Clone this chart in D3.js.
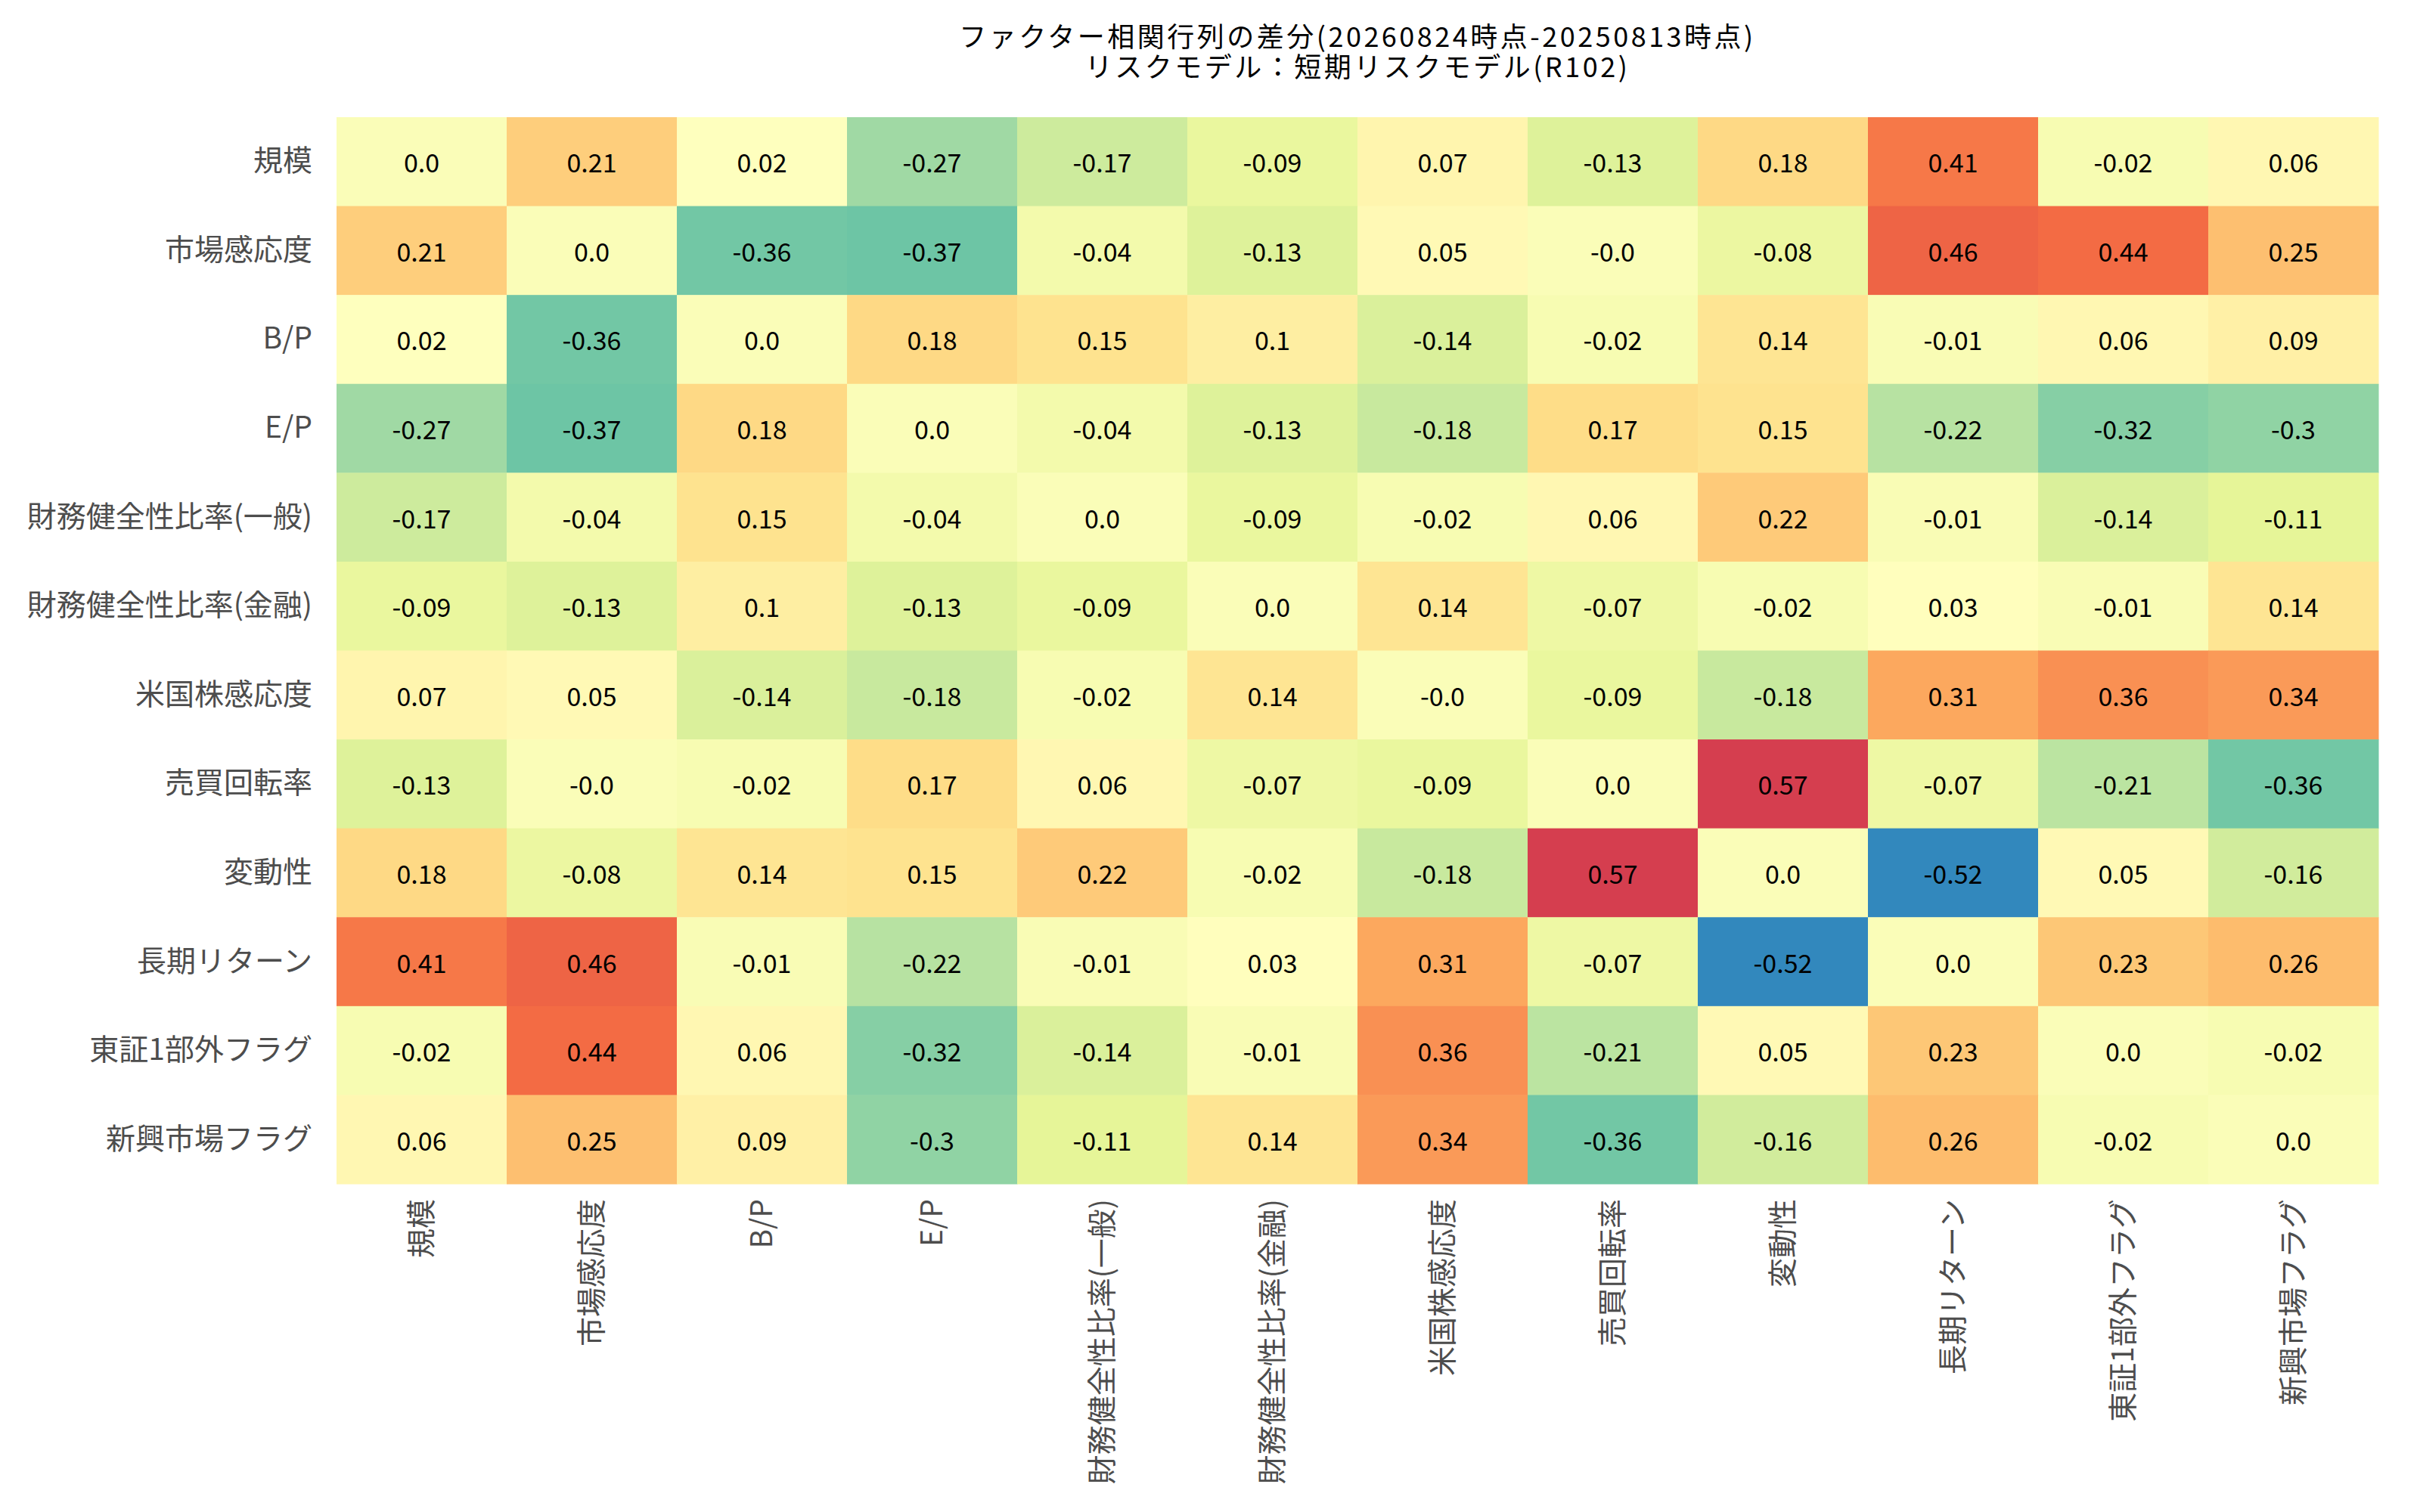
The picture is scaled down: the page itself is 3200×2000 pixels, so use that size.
<!DOCTYPE html>
<html>
<head>
<meta charset="utf-8">
<script src="https://cdn.jsdelivr.net/npm/d3@7"></script>
<style>
  body { margin: 0; background: #fff; }
  svg text { font-family: "Noto Sans CJK JP", "Noto Sans", sans-serif; }
</style>
</head>
<body>
<svg id="chart" width="3200" height="2000"></svg>
<script>
const factors = [
  "規模", "市場感応度", "B/P", "E/P", "財務健全性比率(一般)", "財務健全性比率(金融)",
  "米国株感応度", "売買回転率", "変動性", "長期リターン", "東証1部外フラグ", "新興市場フラグ"
];

// one row per factor, same order as the columns
const rowSize      = [0.0, 0.21, 0.02, -0.27, -0.17, -0.09, 0.07, -0.13, 0.18, 0.41, -0.02, 0.06];
const rowMarket    = [0.21, 0.0, -0.36, -0.37, -0.04, -0.13, 0.05, -0.0, -0.08, 0.46, 0.44, 0.25];
const rowBP        = [0.02, -0.36, 0.0, 0.18, 0.15, 0.1, -0.14, -0.02, 0.14, -0.01, 0.06, 0.09];
const rowEP        = [-0.27, -0.37, 0.18, 0.0, -0.04, -0.13, -0.18, 0.17, 0.15, -0.22, -0.32, -0.3];
const rowHealthGen = [-0.17, -0.04, 0.15, -0.04, 0.0, -0.09, -0.02, 0.06, 0.22, -0.01, -0.14, -0.11];
const rowHealthFin = [-0.09, -0.13, 0.1, -0.13, -0.09, 0.0, 0.14, -0.07, -0.02, 0.03, -0.01, 0.14];
const rowUS        = [0.07, 0.05, -0.14, -0.18, -0.02, 0.14, -0.0, -0.09, -0.18, 0.31, 0.36, 0.34];
const rowTurnover  = [-0.13, -0.0, -0.02, 0.17, 0.06, -0.07, -0.09, 0.0, 0.57, -0.07, -0.21, -0.36];
const rowVol       = [0.18, -0.08, 0.14, 0.15, 0.22, -0.02, -0.18, 0.57, 0.0, -0.52, 0.05, -0.16];
const rowLongRet   = [0.41, 0.46, -0.01, -0.22, -0.01, 0.03, 0.31, -0.07, -0.52, 0.0, 0.23, 0.26];
const rowNonTSE1   = [-0.02, 0.44, 0.06, -0.32, -0.14, -0.01, 0.36, -0.21, 0.05, 0.23, 0.0, -0.02];
const rowEmerging  = [0.06, 0.25, 0.09, -0.3, -0.11, 0.14, 0.34, -0.36, -0.16, 0.26, -0.02, 0.0];

const matrix = [rowSize, rowMarket, rowBP, rowEP, rowHealthGen, rowHealthFin,
                rowUS, rowTurnover, rowVol, rowLongRet, rowNonTSE1, rowEmerging];

const titleLines = [
  "ファクター相関行列の差分(20260824時点-20250813時点)",
  "リスクモデル：短期リスクモデル(R102)"
];

// Spectral_r, linear segments like matplotlib
const spectral = ["#9e0142", "#d53e4f", "#f46d43", "#fdae61", "#fee08b", "#ffffbf",
                  "#e6f598", "#abdda4", "#66c2a5", "#3288bd", "#5e4fa2"];
const colorDomain = [-0.656, 0.706];

const margin = { left: 445, top: 155 };
const width = 2700, height = 1411;

const svg = d3.select("#chart");

const x = d3.scaleBand().domain(factors).range([margin.left, margin.left + width]);
const y = d3.scaleBand().domain(factors).range([margin.top, margin.top + height]);

const norm = d3.scaleLinear().domain(colorDomain).range([0, 1]).clamp(true);
const cmap = d3.scaleLinear()
  .domain(d3.range(11).map(i => i / 10))
  .range(spectral.slice().reverse())
  .interpolate(d3.interpolateRgb);

const fmt = v => (Object.is(v, -0) ? "-" : "") + (Number.isInteger(v) ? v.toFixed(1) : String(v));

const cells = [];
matrix.forEach((row, i) => row.forEach((v, j) => cells.push({ r: factors[i], c: factors[j], v })));

const g = svg.append("g");

g.selectAll("rect.cell")
  .data(cells)
  .enter()
  .append("rect")
  .attr("class", "cell")
  .attr("x", d => x(d.c))
  .attr("y", d => y(d.r))
  .attr("width", x.bandwidth() + 0.5)
  .attr("height", y.bandwidth() + 0.5)
  .attr("fill", d => cmap(norm(d.v)));

g.selectAll("text.annot")
  .data(cells)
  .enter()
  .append("text")
  .attr("class", "annot")
  .attr("x", d => x(d.c) + x.bandwidth() / 2)
  .attr("y", d => y(d.r) + y.bandwidth() / 2)
  .attr("text-anchor", "middle")
  .attr("dominant-baseline", "central")
  .attr("font-size", 34)
  .attr("fill", "#000")
  .text(d => fmt(d.v));

// y axis
svg.append("g")
  .attr("transform", `translate(${margin.left},0)`)
  .call(d3.axisLeft(y).tickSize(0).tickPadding(32))
  .call(ax => ax.select(".domain").remove())
  .selectAll("text")
  .attr("font-size", 39)
  .attr("fill", "#4d4d4d");

// x axis, labels rotated
svg.append("g")
  .attr("transform", `translate(0,${margin.top + height})`)
  .call(d3.axisBottom(x).tickSize(0))
  .call(ax => ax.select(".domain").remove())
  .selectAll("text")
  .attr("font-size", 39)
  .attr("fill", "#4d4d4d")
  .attr("transform", "rotate(-90)")
  .attr("x", -20)
  .attr("y", 0)
  .attr("dy", "0.35em")
  .style("text-anchor", "end");

svg.selectAll("text.title")
  .data(titleLines)
  .enter()
  .append("text")
  .attr("class", "title")
  .attr("x", margin.left + width / 2)
  .attr("y", (d, i) => 62 + i * 40)
  .attr("text-anchor", "middle")
  .attr("font-size", 36)
  .attr("letter-spacing", 3.5)
  .attr("fill", "#000")
  .text(d => d);
</script>
</body>
</html>
